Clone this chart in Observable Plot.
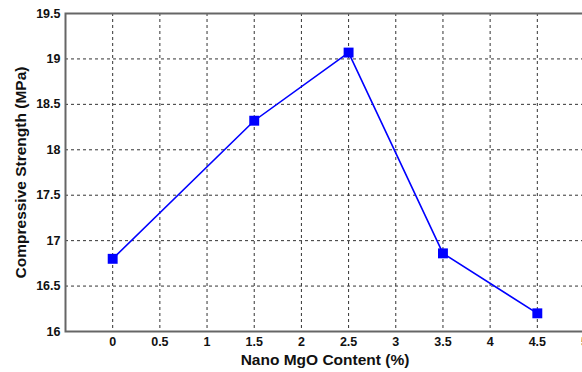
<!DOCTYPE html>
<html>
<head>
<meta charset="utf-8">
<script src="https://cdn.jsdelivr.net/npm/d3@7"></script>
<script src="https://cdn.jsdelivr.net/npm/@observablehq/plot@0.6"></script>
<style>
  html, body { margin: 0; padding: 0; background: #fff; }
</style>
</head>
<body>
<div id="chart"></div>
<script>
const mgoContent = [0, 1.5, 2.5, 3.5, 4.5];
const strength = [16.8, 18.32, 19.07, 16.86, 16.2];
const xTicks = [0, 0.5, 1, 1.5, 2, 2.5, 3, 3.5, 4, 4.5, 5];
const xGrid = [0, 0.5, 1, 1.5, 2, 2.5, 3, 3.5, 4, 4.5];
const yTicks = [16, 16.5, 17, 17.5, 18, 18.5, 19, 19.5];
const yGrid = [16.5, 17, 17.5, 18, 18.5, 19];
const xLabel = "Nano MgO Content (%)";
const yLabel = "Compressive Strength (MPa)";

const data = mgoContent.map((x, i) => ({x, y: strength[i]}));

const chart = Plot.plot({
  width: 582,
  height: 372,
  marginLeft: 65,
  marginRight: -2,
  marginTop: 13,
  marginBottom: 41,
  style: {fontFamily: "'Liberation Sans', Arial, sans-serif", fontSize: "12.5px", fontWeight: "bold", background: "#fff", color: "#111"},
  x: {domain: [-0.5, 5]},
  y: {domain: [16, 19.5]},
  marks: [
    Plot.ruleX(xGrid, {stroke: "#333", strokeWidth: 1, strokeDasharray: "3,3"}),
    Plot.ruleY(yGrid, {stroke: "#333", strokeWidth: 1, strokeDasharray: "3,3"}),
    Plot.frame({stroke: "#666", strokeWidth: 2}),
    Plot.line(data, {x: "x", y: "y", stroke: "#0000ff", strokeWidth: 1.6}),
    Plot.dot(data, {x: "x", y: "y", symbol: "square", r: 5.6, fill: "#0000ff", stroke: "none"}),
    Plot.axisX({ticks: xTicks, tickSize: 0, tickPadding: 6, tickFormat: d => String(d), label: null}),
    Plot.axisY({ticks: yTicks, tickSize: 0, tickPadding: 5, tickFormat: d => String(d), label: null}),
    Plot.text([xLabel], {frameAnchor: "bottom", dy: 29, text: d => d, fontSize: 15.5, fontWeight: "bold", fill: "#111", textAnchor: "middle", lineAnchor: "middle"}),
    Plot.text([yLabel], {frameAnchor: "left", dx: -44, text: d => d, fontSize: 15.5, fontWeight: "bold", fill: "#111", rotate: -90, textAnchor: "middle", lineAnchor: "middle"})
  ]
});
document.getElementById("chart").appendChild(chart);
</script>
</body>
</html>
